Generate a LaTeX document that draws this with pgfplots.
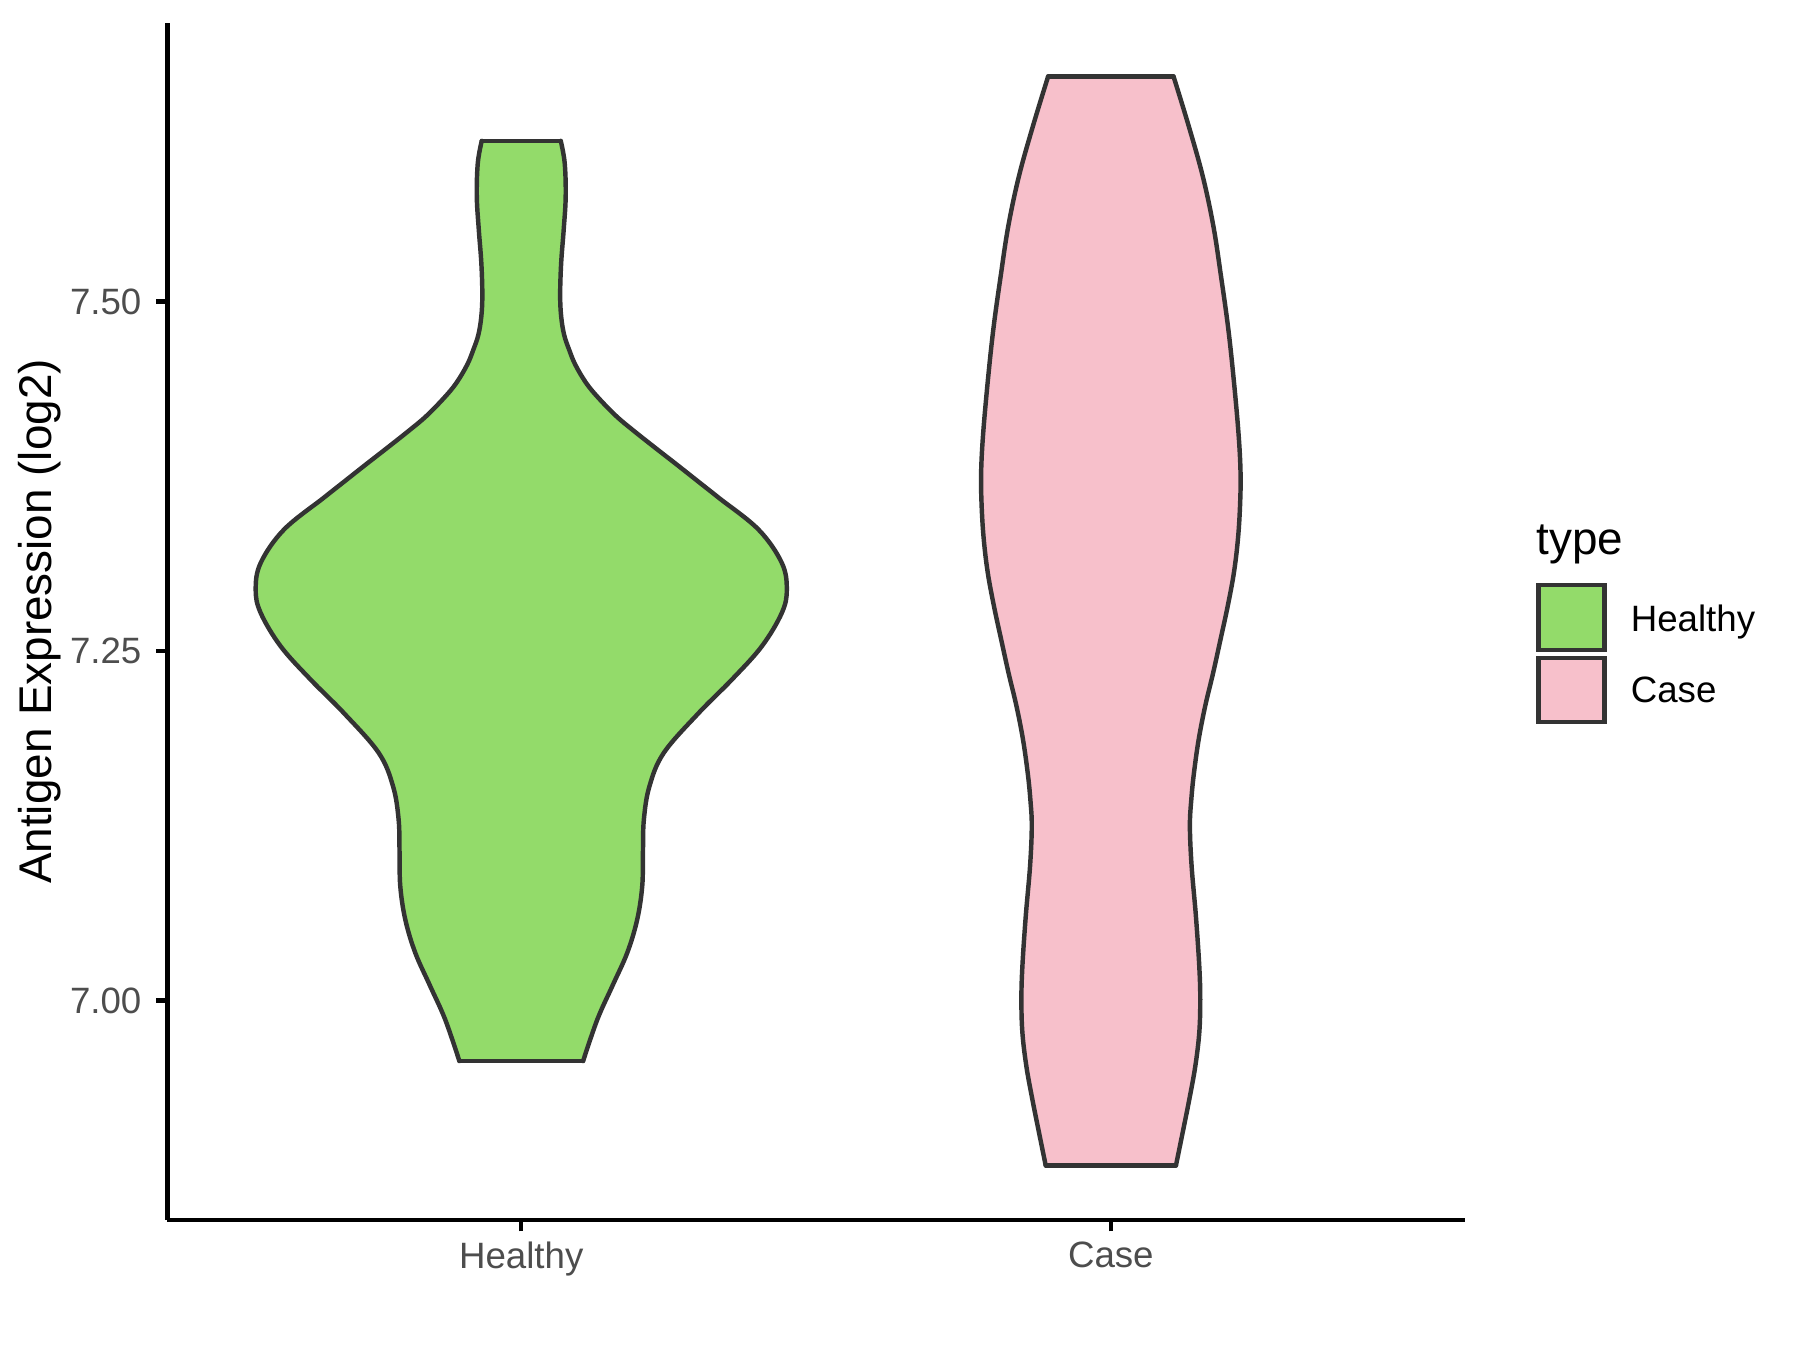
\documentclass[border=0pt]{standalone}
\usepackage{fontspec}
\setmainfont{Liberation Sans}
\usepackage{pgfplots}
\usepackage{pgfplotstable}
\pgfplotsset{compat=1.18}
\definecolor{hgreen}{HTML}{93DB6A}
\definecolor{cpink}{HTML}{F7C0CB}
\definecolor{outl}{HTML}{333333}
\definecolor{tickgray}{HTML}{4D4D4D}
% Healthy violin outline: right side, top to bottom
\pgfplotstableread{
x y
1.0670 7.6151
1.0737 7.5992
1.0754 7.5753
1.0720 7.5515
1.0677 7.5277
1.0660 7.5050
1.0677 7.4895
1.0727 7.4764
1.0812 7.4657
1.0916 7.4550
1.1100 7.4419
1.1311 7.4311
1.1615 7.4180
1.1918 7.4073
1.2311 7.3942
1.2640 7.3834
1.3033 7.3703
1.3354 7.3596
1.4026 7.3369
1.4420 7.3131
1.4504 7.2940
1.4420 7.2774
1.4081 7.2535
1.3574 7.2297
1.3011 7.2058
1.2419 7.1773
1.2175 7.1534
1.2080 7.1296
1.2064 7.1057
1.2052 7.0819
1.1967 7.0580
1.1798 7.0342
1.1544 7.0103
1.1291 6.9865
1.1049 6.9567
}\healthyR
% Healthy violin outline: left side, top to bottom
\pgfplotstableread{
x y
0.9330 7.6151
0.9263 7.5992
0.9246 7.5753
0.9280 7.5515
0.9323 7.5277
0.9340 7.5050
0.9323 7.4895
0.9273 7.4764
0.9188 7.4657
0.9084 7.4550
0.8900 7.4419
0.8689 7.4311
0.8385 7.4180
0.8082 7.4073
0.7689 7.3942
0.7360 7.3834
0.6967 7.3703
0.6646 7.3596
0.5974 7.3369
0.5580 7.3131
0.5496 7.2940
0.5580 7.2774
0.5919 7.2535
0.6426 7.2297
0.6989 7.2058
0.7581 7.1773
0.7825 7.1534
0.7920 7.1296
0.7936 7.1057
0.7948 7.0819
0.8033 7.0580
0.8202 7.0342
0.8456 7.0103
0.8709 6.9865
0.8951 6.9567
}\healthyL
% Case violin outline: right side, top to bottom
\pgfplotstableread{
x y
2.1064 7.6611
2.1323 7.6254
2.1560 7.5896
2.1740 7.5539
2.1869 7.5181
2.1987 7.4823
2.2079 7.4466
2.2165 7.4060
2.2200 7.3775
2.2191 7.3536
2.2155 7.3298
2.2087 7.3060
2.1982 7.2821
2.1860 7.2583
2.1735 7.2344
2.1600 7.2106
2.1490 7.1868
2.1410 7.1629
2.1365 7.1439
2.1341 7.1248
2.1370 7.0962
2.1443 7.0604
2.1500 7.0246
2.1517 7.0008
2.1500 6.9770
2.1433 6.9531
2.1331 6.9293
2.1218 6.9055
2.1105 6.8821
}\caseR
% Case violin outline: left side, top to bottom
\pgfplotstableread{
x y
1.8936 7.6611
1.8677 7.6254
1.8440 7.5896
1.8260 7.5539
1.8131 7.5181
1.8013 7.4823
1.7921 7.4466
1.7835 7.4060
1.7800 7.3775
1.7809 7.3536
1.7845 7.3298
1.7913 7.3060
1.8018 7.2821
1.8140 7.2583
1.8265 7.2344
1.8400 7.2106
1.8510 7.1868
1.8590 7.1629
1.8635 7.1439
1.8659 7.1248
1.8630 7.0962
1.8557 7.0604
1.8500 7.0246
1.8483 7.0008
1.8500 6.9770
1.8567 6.9531
1.8669 6.9293
1.8782 6.9055
1.8895 6.8821
}\caseL
\begin{document}
\begin{tikzpicture}
\path[use as bounding box] (-40.2bp,-31.2bp) rectangle (391.8bp,292.8bp);
\begin{axis}[
  at={(0,0)}, anchor=south west,
  scale only axis, width=311.3bp, height=287.3bp,
  xmin=0.4, xmax=2.6, ymin=6.843, ymax=7.6995,
  axis lines=left,
  axis line style={-, line width=1.07pt, black},
  xtick={1,2}, xticklabels={Healthy,Case},
  ytick={7,7.25,7.5},
  yticklabel style={/pgf/number format/.cd, fixed, fixed zerofill, precision=2},
  /pgf/number format/assume math mode=true,
  tick align=outside, major tick length=2.75bp,
  tick style={line width=1.07pt, black},
  ticklabel style={font=\fontsize{8.8bp}{10bp}\selectfont, text=tickgray},
  xticklabel style={yshift=1.1bp},
  ylabel={Antigen Expression (log2)},
  ylabel style={font=\fontsize{11bp}{13bp}\selectfont, anchor=center},
  every axis y label/.append style={at={([xshift=-30.6bp]axis description cs:0,0.5)}},
  clip=false,
]
% Healthy: filled body (right side down, left side up)
\addplot[fill=hgreen, draw=none] table {
x y
0.9330 7.6151
1.0670 7.6151
1.0737 7.5992
1.0754 7.5753
1.0720 7.5515
1.0677 7.5277
1.0660 7.5050
1.0677 7.4895
1.0727 7.4764
1.0812 7.4657
1.0916 7.4550
1.1100 7.4419
1.1311 7.4311
1.1615 7.4180
1.1918 7.4073
1.2311 7.3942
1.2640 7.3834
1.3033 7.3703
1.3354 7.3596
1.4026 7.3369
1.4420 7.3131
1.4504 7.2940
1.4420 7.2774
1.4081 7.2535
1.3574 7.2297
1.3011 7.2058
1.2419 7.1773
1.2175 7.1534
1.2080 7.1296
1.2064 7.1057
1.2052 7.0819
1.1967 7.0580
1.1798 7.0342
1.1544 7.0103
1.1291 6.9865
1.1049 6.9567
0.8951 6.9567
0.8709 6.9865
0.8456 7.0103
0.8202 7.0342
0.8033 7.0580
0.7948 7.0819
0.7936 7.1057
0.7920 7.1296
0.7825 7.1534
0.7581 7.1773
0.6989 7.2058
0.6426 7.2297
0.5919 7.2535
0.5580 7.2774
0.5496 7.2940
0.5580 7.3131
0.5974 7.3369
0.6646 7.3596
0.6967 7.3703
0.7360 7.3834
0.7689 7.3942
0.8082 7.4073
0.8385 7.4180
0.8689 7.4311
0.8900 7.4419
0.9084 7.4550
0.9188 7.4657
0.9273 7.4764
0.9323 7.4895
0.9340 7.5050
0.9323 7.5277
0.9280 7.5515
0.9246 7.5753
0.9263 7.5992
0.9330 7.6151
};
\addplot[draw=outl, line width=1.07pt, smooth, tension=0.6, line join=round, line cap=round] table {\healthyR};
\addplot[draw=outl, line width=1.07pt, smooth, tension=0.6, line join=round, line cap=round] table {\healthyL};
\addplot[draw=outl, line width=1.07pt, line cap=round] coordinates {(0.9330,7.6151) (1.0670,7.6151)};
\addplot[draw=outl, line width=1.07pt, line cap=round] coordinates {(0.8951,6.9567) (1.1049,6.9567)};
% Case: filled body
\addplot[fill=cpink, draw=none] table {
x y
1.8936 7.6611
2.1064 7.6611
2.1323 7.6254
2.1560 7.5896
2.1740 7.5539
2.1869 7.5181
2.1987 7.4823
2.2079 7.4466
2.2165 7.4060
2.2200 7.3775
2.2191 7.3536
2.2155 7.3298
2.2087 7.3060
2.1982 7.2821
2.1860 7.2583
2.1735 7.2344
2.1600 7.2106
2.1490 7.1868
2.1410 7.1629
2.1365 7.1439
2.1341 7.1248
2.1370 7.0962
2.1443 7.0604
2.1500 7.0246
2.1517 7.0008
2.1500 6.9770
2.1433 6.9531
2.1331 6.9293
2.1218 6.9055
2.1105 6.8821
1.8895 6.8821
1.8782 6.9055
1.8669 6.9293
1.8567 6.9531
1.8500 6.9770
1.8483 7.0008
1.8500 7.0246
1.8557 7.0604
1.8630 7.0962
1.8659 7.1248
1.8635 7.1439
1.8590 7.1629
1.8510 7.1868
1.8400 7.2106
1.8265 7.2344
1.8140 7.2583
1.8018 7.2821
1.7913 7.3060
1.7845 7.3298
1.7809 7.3536
1.7800 7.3775
1.7835 7.4060
1.7921 7.4466
1.8013 7.4823
1.8131 7.5181
1.8260 7.5539
1.8440 7.5896
1.8677 7.6254
1.8936 7.6611
};
\addplot[draw=outl, line width=1.07pt, smooth, tension=0.6, line join=round, line cap=round] table {\caseR};
\addplot[draw=outl, line width=1.07pt, smooth, tension=0.6, line join=round, line cap=round] table {\caseL};
\addplot[draw=outl, line width=1.07pt, line cap=round] coordinates {(1.8936,7.6611) (2.1064,7.6611)};
\addplot[draw=outl, line width=1.07pt, line cap=round] coordinates {(1.8895,6.8821) (2.1105,6.8821)};
\end{axis}
\node[anchor=base west, font=\fontsize{11bp}{13bp}\selectfont, inner sep=0pt] at (328.4bp,159.7bp) {type};
\draw[outl, line width=1.07pt, fill=hgreen] (329.0bp,136.8bp) rectangle (344.9bp,152.4bp);
\draw[outl, line width=1.07pt, fill=cpink] (329.0bp,119.5bp) rectangle (344.9bp,134.9bp);
\node[anchor=base west, font=\fontsize{8.8bp}{10bp}\selectfont, inner sep=0pt] at (351.0bp,141.3bp) {Healthy};
\node[anchor=base west, font=\fontsize{8.8bp}{10bp}\selectfont, inner sep=0pt] at (351.0bp,124.2bp) {Case};
\end{tikzpicture}
\end{document}
